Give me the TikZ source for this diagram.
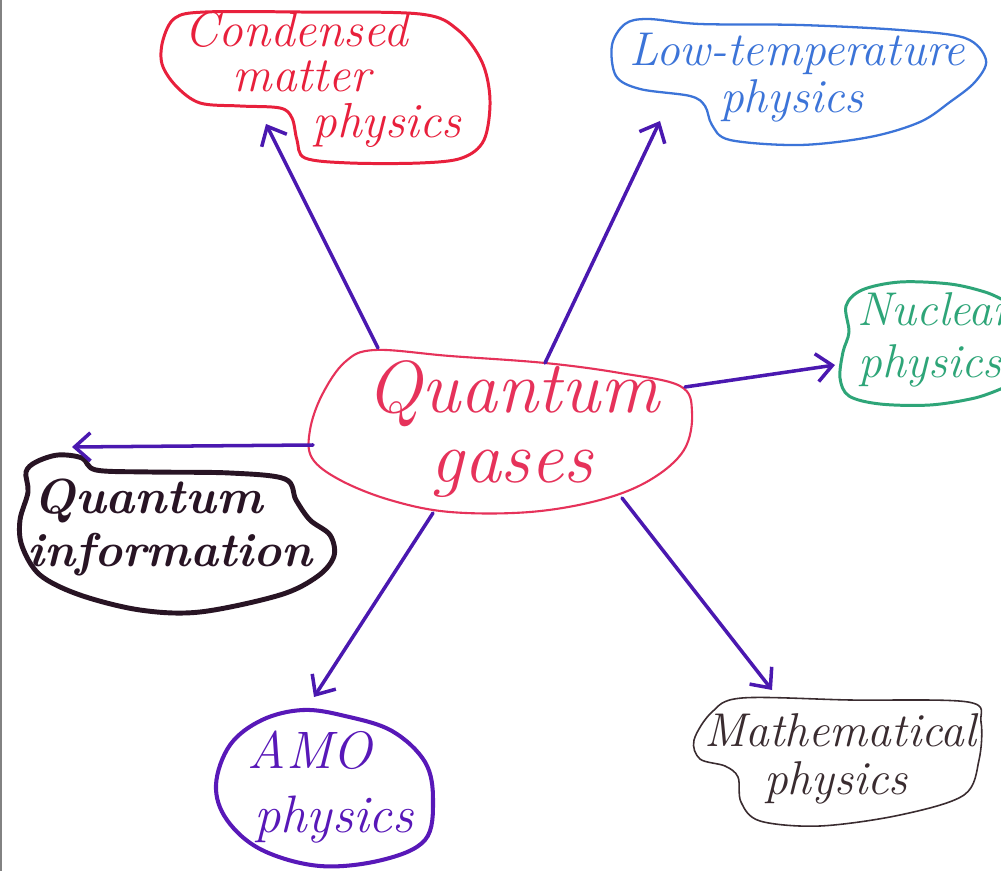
\documentclass[tikz,border=0pt]{standalone}
\usepackage{fontspec}
\usetikzlibrary{arrows.meta}
\definecolor{cred}{RGB}{232,32,60}
\definecolor{cpink}{RGB}{230,50,90}
\definecolor{cblue}{RGB}{60,116,216}
\definecolor{cgreen}{RGB}{46,165,120}
\definecolor{cblack}{RGB}{40,20,36}
\definecolor{camo}{RGB}{88,24,184}
\definecolor{cmath}{RGB}{58,44,48}
\definecolor{carrow}{RGB}{74,24,176}
\definecolor{cframe}{RGB}{130,130,130}
\tikzset{
  blob/.style={line join=round, line cap=round},
  lbl/.style={font=\itshape, inner sep=0pt, anchor=base},
  conn/.style={carrow, line width=2pt, line cap=round,
    -{Straight Barb[length=9pt,width=16pt,line width=2pt]}}
}
\begin{document}
\begin{tikzpicture}[x=0.02cm,y=-0.02cm]
\useasboundingbox (0,0) rectangle (1001,871);
\clip (0,0) rectangle (1001,871);
\fill[white] (0,0) rectangle (1001,871);
\draw[cframe, line width=1.2pt] (1,0) -- (1,871);

% ---------- blobs ----------
% centre
\draw[blob, cpink, line width=1.2pt] plot[smooth cycle, tension=0.6] coordinates
 {(310,430) (322,395) (345,362) (375,350) (450,356) (545,363) (620,373) (680,386) (692,412) (684,450) (650,480) (600,500) (530,512) (450,512) (390,500) (340,480) (312,458)};
% condensed matter
\draw[blob, cred, line width=1.7pt] plot[smooth cycle, tension=0.55] coordinates
 {(163,40) (175,18) (205,12) (300,12) (420,14) (458,30) (482,62) (490,100) (484,140) (462,158) (420,163) (350,163) (305,158) (297,140) (292,118) (280,108) (240,106) (200,103) (176,86) (162,64)};
% low temperature
\draw[blob, cblue, line width=1.3pt] plot[smooth cycle, tension=0.55] coordinates
 {(612,45) (625,24) (648,19) (700,24) (800,25) (900,30) (965,38) (986,60) (975,82) (950,102) (920,122) (870,137) (800,145) (730,140) (712,125) (705,106) (690,96) (640,89) (616,76)};
% nuclear
\draw[blob, cgreen, line width=1.7pt] plot[smooth, tension=0.55] coordinates
 {(1003,300) (985,292) (950,284) (900,282) (862,290) (846,306) (849,332) (843,352) (840,378) (849,396) (880,404) (930,405) (975,398) (1003,388)};
% quantum information
\draw[blob, cblack, line width=2.8pt] plot[smooth cycle, tension=0.55] coordinates
 {(36,462) (58,455) (82,458) (96,470) (150,472) (230,473) (285,479) (296,500) (310,520) (330,535) (334,556) (318,576) (280,595) (200,612) (140,610) (80,595) (40,575) (22,546) (20,520) (28,492) (26,472)};
% AMO
\draw[blob, camo, line width=2.3pt] plot[smooth cycle, tension=0.6] coordinates
 {(303,710) (345,716) (392,731) (425,762) (433,800) (425,840) (382,860) (320,866) (262,850) (227,820) (216,785) (230,745) (262,720)};
% mathematical
\draw[blob, cmath, line width=0.9pt] plot[smooth cycle, tension=0.55] coordinates
 {(742,698) (850,700) (968,702) (981,722) (979,760) (964,795) (900,815) (820,826) (760,821) (741,802) (738,777) (725,766) (700,759) (694,740) (712,712)};

% ---------- labels ----------
\node[lbl, cpink, font=\itshape\fontsize{42}{42}\selectfont] (qg1) at (513,413) {Quantum};
\node[lbl, cpink, font=\itshape\fontsize{42}{42}\selectfont] (qg2) at (512,482) {gases};

\node[lbl, cred, font=\itshape\fontsize{28}{28}\selectfont] (cm1) at (296,47) {Condensed};
\node[lbl, cred, font=\itshape\fontsize{28}{28}\selectfont] (cm2) at (302,92) {matter};
\node[lbl, cred, font=\itshape\fontsize{28}{28}\selectfont] (cm3) at (387,138) {physics};

\node[lbl, cblue, font=\itshape\fontsize{27}{27}\selectfont] (lt1) at (797,66) {Low-temperature};
\node[lbl, cblue, font=\itshape\fontsize{27}{27}\selectfont] (lt2) at (792,113) {physics};

\node[lbl, cgreen, font=\itshape\fontsize{27}{27}\selectfont, anchor=base west] (nu1) at (857,326) {Nuclear};
\node[lbl, cgreen, font=\itshape\fontsize{27}{27}\selectfont, anchor=base west] (nu2) at (858,378) {physics};

\node[lbl, cblack, font=\bfseries\itshape\fontsize{28}{28}\selectfont] (qi1) at (148,514) {Quantum};
\node[lbl, cblack, font=\bfseries\itshape\fontsize{27}{27}\selectfont] (qi2) at (170,566) {information};

\node[lbl, camo, font=\itshape\fontsize{30}{30}\selectfont] (amo1) at (310,768) {AMO};
\node[lbl, camo, font=\itshape\fontsize{30}{30}\selectfont] (amo2) at (334,832) {physics};

\node[lbl, cmath, font=\itshape\fontsize{27}{27}\selectfont] (ma1) at (840,746) {Mathematical};
\node[lbl, cmath, font=\itshape\fontsize{27}{27}\selectfont] (ma2) at (836,794) {physics};

% ---------- connector ends ----------
\coordinate (sCM) at (378,348);  \coordinate (eCM) at (266,124);
\coordinate (sLT) at (545,363);  \coordinate (eLT) at (660,121);
\coordinate (sNU) at (685,387);  \coordinate (eNU) at (835,365);
\coordinate (sQI) at (313,445);  \coordinate (eQI) at (72,447);
\coordinate (sAM) at (433,513);  \coordinate (eAM) at (314,697);
\coordinate (sMA) at (622,498);  \coordinate (eMA) at (772,690);

\draw[conn] (sCM) -- (eCM);
\draw[conn] (sLT) -- (eLT);
\draw[conn] (sNU) -- (eNU);
\draw[conn] (sQI) -- (eQI);
\draw[conn] (sAM) -- (eAM);
\draw[conn] (sMA) -- (eMA);
\end{tikzpicture}
\end{document}
